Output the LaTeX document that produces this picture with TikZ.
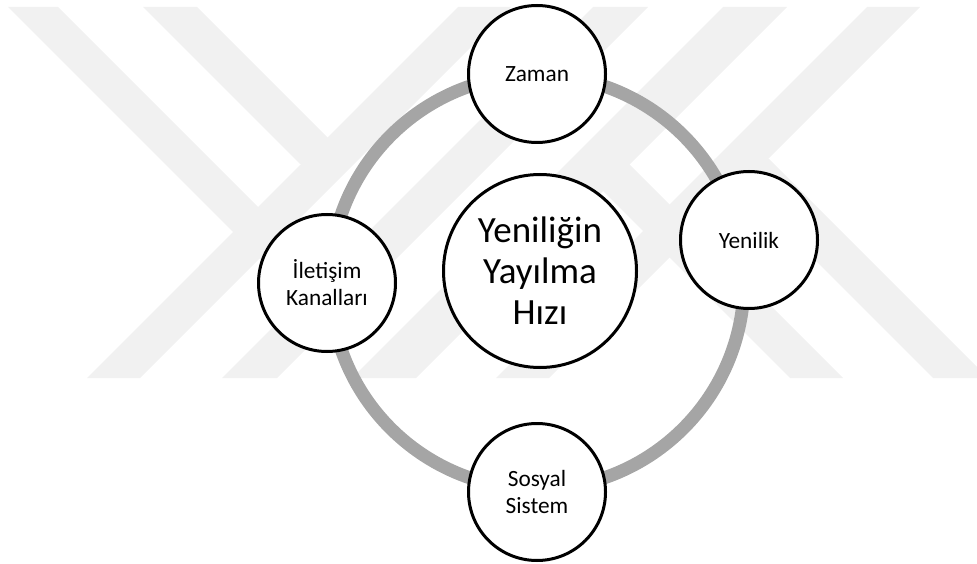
\documentclass[tikz,border=0pt]{standalone}
\usepackage{fontspec}
\setmainfont{Carlito}
\definecolor{wm}{RGB}{241,241,241}
\definecolor{ringgray}{RGB}{165,165,165}
\begin{document}
\begin{tikzpicture}[x=1pt,y=-1pt,
  bub/.style={circle,draw=black,line width=3pt,fill=white,minimum size=137pt,inner sep=0pt,
    align=center,font=\fontsize{23.3}{27}\selectfont},
  bigbub/.style={circle,draw=black,line width=3pt,fill=white,minimum size=193pt,inner sep=0pt,
    align=center,font=\fontsize{37}{41}\selectfont},
  ring/.style={draw=ringgray,line width=13pt}]
\useasboundingbox (0,0) rectangle (977,564);
% faint watermark
\fill[wm] (87,378) -- (140,378) -- (511,7) -- (458,7) -- cycle;
\fill[wm] (222,378) -- (277,378) -- (648,7) -- (593,7) -- cycle;
\fill[wm] (352,378) -- (416,378) -- (787,7) -- (723,7) -- cycle;
\fill[wm] (496,378) -- (549,378) -- (920,7) -- (867,7) -- cycle;
\fill[wm] (8,7) -- (58,7) -- (352,301) -- (302,301) -- cycle;
\fill[wm] (143,7) -- (197,7) -- (354,164) -- (300,164) -- cycle;
\fill[wm] (790,378) -- (843,378) -- (627,162) -- (574,162) -- cycle;
\fill[wm] (933,378) -- (988,378) -- (769,159) -- (714,159) -- cycle;
% ring
\coordinate (ringc) at (537,282);
\draw[ring] (ringc) circle[radius=207];
% nodes
\node[bigbub] (hiz) at (540,271) {Yeniliğin\\Yayılma\\Hızı};
\node[bub] (zaman) at (537,74) {Zaman};
\node[bub] (yenilik) at (749,240) {Yenilik};
\node[bub] (iletisim) at (327,283) {İletişim\\Kanalları};
\node[bub] (sosyal) at (537,492) {Sosyal\\Sistem};
\end{tikzpicture}
\end{document}
